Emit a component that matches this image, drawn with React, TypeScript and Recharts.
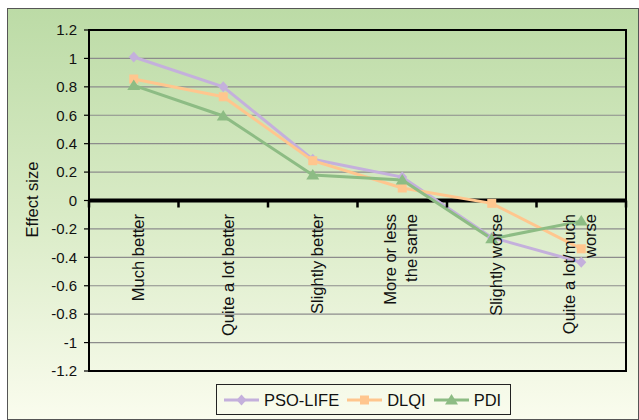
import React from 'react';
import { ComposedChart, Line, XAxis, YAxis, CartesianGrid, ReferenceLine } from 'recharts';

const categories = ['Much better', 'Quite a lot better', 'Slightly better', 'More or less\nthe same', 'Slightly worse', 'Quite a lot/much\nworse'];
const psoLife = [1.01, 0.8, 0.29, 0.165, -0.26, -0.435];
const dlqi = [0.855, 0.73, 0.28, 0.088, -0.02, -0.34];
const pdi = [0.81, 0.595, 0.18, 0.145, -0.27, -0.145];
const yTicks = [1.2, 1, 0.8, 0.6, 0.4, 0.2, 0, -0.2, -0.4, -0.6, -0.8, -1, -1.2];
const seriesNames = ['PSO-LIFE', 'DLQI', 'PDI'];
const seriesColors = ['#C4B0DC', '#FFC68E', '#8DBC84'];
const seriesShapes = ['diamond', 'square', 'triangle'];

const data = categories.map((c, i) => ({ cat: c, s0: psoLife[i], s1: dlqi[i], s2: pdi[i] }));

const W = 630;
const H = 410;
const M = { top: 21, right: 12, bottom: 47, left: 11 };
const YW = 70;
const PLOT_W = W - M.left - YW - M.right;
const PLOT_H = H - M.top - M.bottom - 1;
const ZERO_Y = M.top + PLOT_H / 2;
const BAND = PLOT_W / categories.length;
const FONT = '"Liberation Sans", Arial, sans-serif';

function Marker({ cx, cy, shape, color }: any) {
  if (cx == null || cy == null) return null;
  if (shape === 'diamond') {
    return <path d={`M${cx},${cy - 5.5}L${cx + 5},${cy}L${cx},${cy + 5.5}L${cx - 5},${cy}Z`} fill={color} />;
  }
  if (shape === 'square') {
    return <rect x={cx - 4.5} y={cy - 4.5} width={9} height={9} fill={color} />;
  }
  return <path d={`M${cx},${cy - 6}L${cx + 6.5},${cy + 4.5}L${cx - 6.5},${cy + 4.5}Z`} fill={color} />;
}

function makeDot(k: number) {
  return (p: any) => <Marker key={`d${k}-${p.index}`} cx={p.cx} cy={p.cy} shape={seriesShapes[k]} color={seriesColors[k]} />;
}

function XTick(props: any) {
  const { x, index, payload } = props;
  const lines = String(payload.value).split('\n');
  const offs = lines.length === 1 ? [10.5] : [-6, 15];
  const top = ZERO_Y + 13.5;
  return (
    <g>
      <line x1={x - BAND / 2} x2={x - BAND / 2} y1={ZERO_Y} y2={ZERO_Y + 7} stroke="#000" strokeWidth={2.5} />
      {index === categories.length - 1 && (
        <line x1={x + BAND / 2} x2={x + BAND / 2} y1={ZERO_Y} y2={ZERO_Y + 7} stroke="#000" strokeWidth={2.5} />
      )}
      <g transform={`translate(${x},${top}) rotate(-90)`}>
        {lines.map((l, i) => (
          <text key={i} x={0} y={offs[i]} textAnchor="end" fontSize={16.5} fill="#111" fontFamily={FONT}>
            {l}
          </text>
        ))}
      </g>
    </g>
  );
}

function YLabel(props: any) {
  const vb = props.viewBox || {};
  const cx = (vb.x ?? 0) + 13;
  const cy = (vb.y ?? 0) + (vb.height ?? 0) / 2 - 1;
  return (
    <text transform={`rotate(-90 ${cx} ${cy})`} x={cx} y={cy} textAnchor="middle" dominantBaseline="central" fontSize={16.5} fill="#111" fontFamily={FONT}>
      Effect size
    </text>
  );
}

function LegendIcon({ k }: { k: number }) {
  return (
    <svg width={35} height={14} style={{ display: 'block', flexShrink: 0 }}>
      <line x1={0} x2={35} y1={7} y2={7} stroke={seriesColors[k]} strokeWidth={3} />
      <Marker cx={17.5} cy={7} shape={seriesShapes[k]} color={seriesColors[k]} />
    </svg>
  );
}

export default function App() {
  return (
    <div
      style={{
        position: 'absolute',
        left: 7,
        top: 8,
        width: W,
        height: H,
        border: '1px solid #555',
        background: 'linear-gradient(to bottom, #BCDBA6 0%, #D9EBC6 50%, #FAFCEE 100%)',
        fontFamily: FONT,
      }}
    >
      <ComposedChart width={W} height={H} data={data} margin={M}>
        <CartesianGrid vertical={false} stroke="#8c8c8c" strokeWidth={1.2} />
        <XAxis
          dataKey="cat"
          type="category"
          scale="band"
          height={1}
          axisLine={{ stroke: '#000', strokeWidth: 1.5 }}
          tickLine={false}
          tick={<XTick />}
          interval={0}
        />
        <YAxis
          width={YW}
          domain={[-1.2, 1.2]}
          ticks={yTicks}
          interval={0}
          tickSize={5}
          tickMargin={7}
          axisLine={{ stroke: '#000', strokeWidth: 1.5 }}
          tickLine={{ stroke: '#000', strokeWidth: 1.2 }}
          tick={{ fill: '#111', fontSize: 15, fontFamily: FONT }}
          label={<YLabel />}
        />
        <ReferenceLine y={0} stroke="#000" strokeWidth={4} />
        <Line dataKey="s0" name={seriesNames[0]} stroke={seriesColors[0]} strokeWidth={3} dot={makeDot(0)} activeDot={false} isAnimationActive={false} />
        <Line dataKey="s1" name={seriesNames[1]} stroke={seriesColors[1]} strokeWidth={3} dot={makeDot(1)} activeDot={false} isAnimationActive={false} />
        <Line dataKey="s2" name={seriesNames[2]} stroke={seriesColors[2]} strokeWidth={3} dot={makeDot(2)} activeDot={false} isAnimationActive={false} />
      </ComposedChart>
      <div
        style={{
          position: 'absolute',
          left: M.left + YW - 1,
          top: M.top - 1,
          width: PLOT_W + 2,
          height: PLOT_H + 2,
          border: '2px solid #000',
          boxSizing: 'border-box',
          pointerEvents: 'none',
          zIndex: 5,
        }}
      />
      <div
        style={{
          position: 'absolute',
          left: 208,
          top: 375,
          width: 295,
          height: 31,
          border: '1px solid #222',
          display: 'flex',
          alignItems: 'center',
          paddingLeft: 7,
          boxSizing: 'border-box',
          fontSize: 16.5,
          color: '#111',
          whiteSpace: 'nowrap',
          overflow: 'visible',
        }}
      >
        {seriesNames.map((n, k) => (
          <div key={n} style={{ display: 'flex', alignItems: 'center', marginRight: 8, flexShrink: 0 }}>
            <LegendIcon k={k} />
            <span style={{ marginLeft: 5, lineHeight: '20px' }}>{n}</span>
          </div>
        ))}
      </div>
    </div>
  );
}
